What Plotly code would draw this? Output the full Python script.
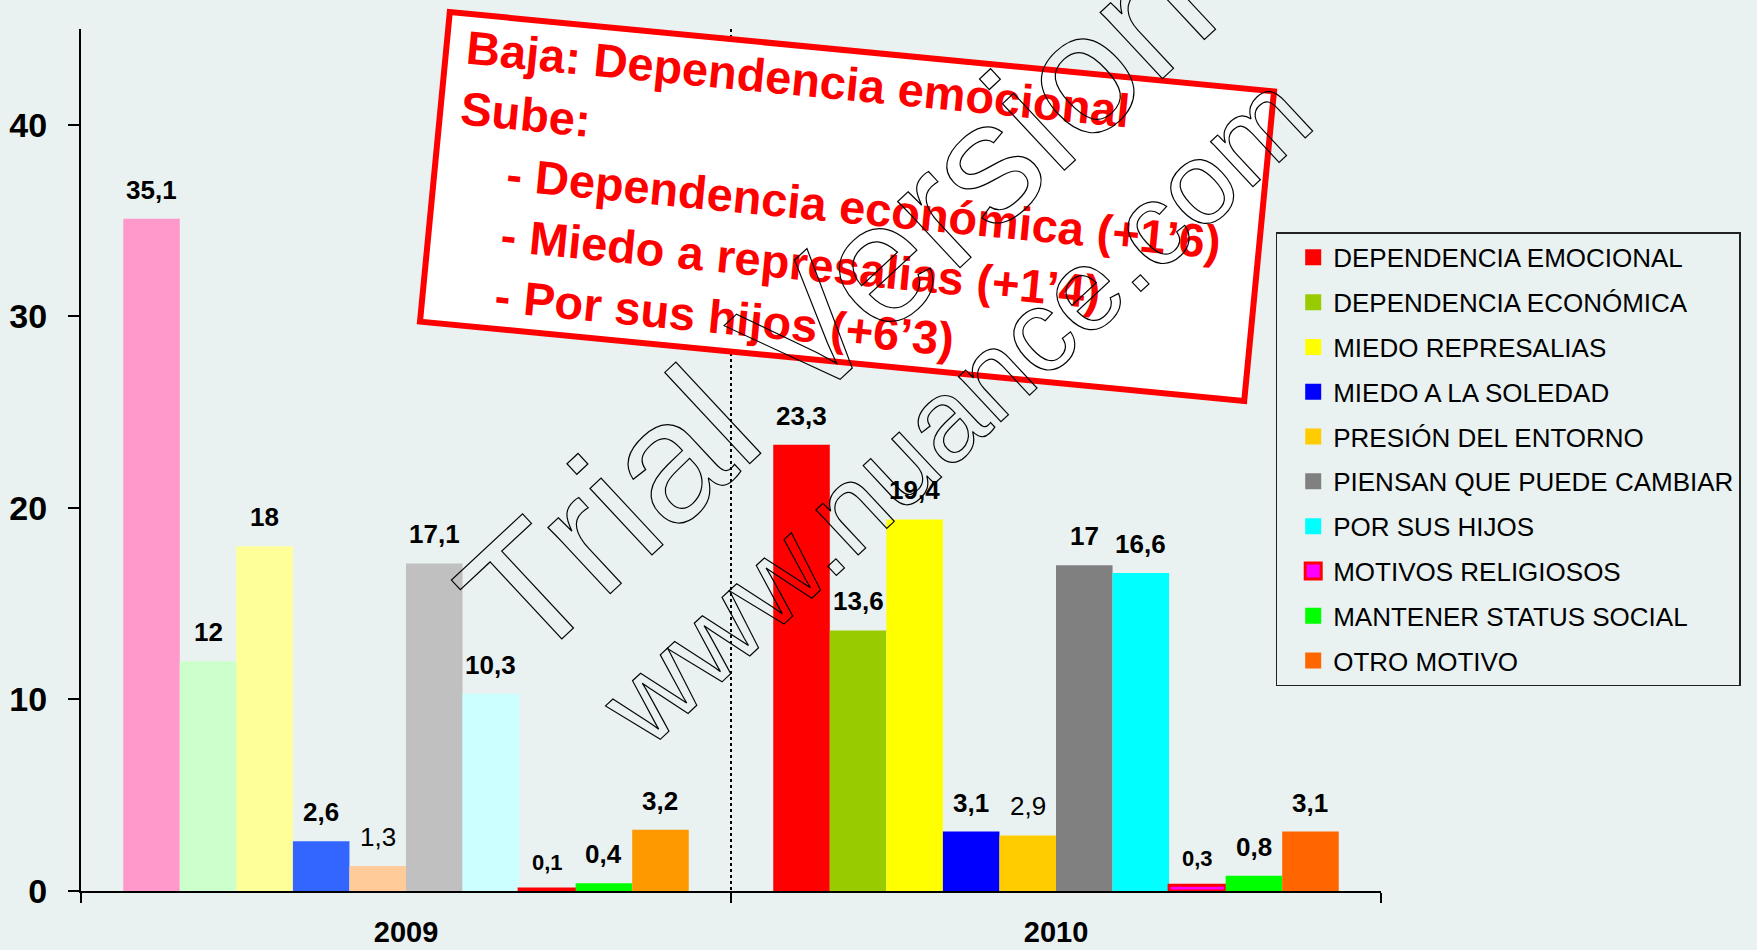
import plotly.graph_objects as go

years = ['2009', '2010']

motivos = [
    'DEPENDENCIA EMOCIONAL',
    'DEPENDENCIA ECONÓMICA',
    'MIEDO REPRESALIAS',
    'MIEDO A LA SOLEDAD',
    'PRESIÓN DEL ENTORNO',
    'PIENSAN QUE PUEDE CAMBIAR',
    'POR SUS HIJOS',
    'MOTIVOS RELIGIOSOS',
    'MANTENER STATUS SOCIAL',
    'OTRO MOTIVO',
]

valores_2009 = [35.1, 12, 18, 2.6, 1.3, 17.1, 10.3, 0.1, 0.4, 3.2]
valores_2010 = [23.3, 13.6, 19.4, 3.1, 2.9, 17, 16.6, 0.3, 0.8, 3.1]

colores_2009 = ['#FF99CC', '#CCFFCC', '#FFFF99', '#3366FF', '#FFCC99',
                '#C0C0C0', '#CCFFFF', '#FF00FF', '#00FF00', '#FF9900']
colores_2010 = ['#FF0000', '#99CC00', '#FFFF00', '#0000FF', '#FFCC00',
                '#808080', '#00FFFF', '#FF00FF', '#00FF00', '#FF6600']

nota = [
    'Baja: Dependencia emocional',
    'Sube:',
    '- Dependencia económica (+1’6)',
    '- Miedo a represalias (+1’4)',
    '- Por sus hijos (+6’3)',
]

bg = '#E9F2F1'
font_main = 'Liberation Sans, Arial, sans-serif'
bargap = 0.13

data = []
for i, name in enumerate(motivos):
    religioso = (i == 7)
    data.append(go.Bar(
        x=years,
        y=[valores_2009[i], valores_2010[i]],
        name=name,
        marker=dict(color=[colores_2009[i], colores_2010[i]],
                    line=dict(color='#FF0000', width=3 if religioso else 0)),
        showlegend=False,
        hoverinfo='x+y+name',
    ))

# legend entries (2010 colours)
for i, name in enumerate(motivos):
    religioso = (i == 7)
    data.append(go.Scatter(
        x=[None], y=[None],
        mode='markers',
        name=name,
        legendgroup=name,
        marker=dict(symbol='square', size=16, color=colores_2010[i],
                    line=dict(color='#FF0000', width=3 if religioso else 0)),
    ))

# value labels above the bars
annotations = []
bw = (1 - bargap) / len(motivos)
for j, vals in enumerate([valores_2009, valores_2010]):
    for i, v in enumerate(vals):
        label = f'{v:g}'.replace('.', ',')
        bold = (i != 4)
        size = 22 if i == 7 else 26
        annotations.append(dict(
            x=j + (i - (len(motivos) - 1) / 2) * bw,
            y=v,
            xref='x', yref='y',
            text=label,
            showarrow=False,
            xanchor='center', yanchor='bottom',
            yshift=12,
            font=dict(family=font_main, size=size, color='black',
                      weight='bold' if bold else 'normal'),
        ))

# red note box
nbsp = '\u00a0'
lines = []
for t in nota:
    indent = nbsp * (5 if t.startswith('-') else 1)
    lines.append(indent + t)
annotations.append(dict(
    x=0.589, y=0.794, xref='paper', yref='paper',
    xanchor='center', yanchor='middle',
    text='<br>'.join(lines),
    align='left', valign='middle',
    showarrow=False,
    textangle=5.5,
    width=814, height=297,
    bgcolor='white', bordercolor='#FF0000', borderwidth=6, borderpad=4,
    font=dict(family=font_main, size=47, color='#FF0000', weight='bold'),
))

# watermark (outlined via post_script)
wm_font = 'Liberation Sans, Arial, sans-serif'
annotations.append(dict(
    x=0.581, y=0.684, xref='paper', yref='paper',
    xanchor='center', yanchor='middle', showarrow=False,
    text='Trial Version', textangle=-43,
    font=dict(family=wm_font, size=172, color='rgba(0,0,0,0)'),
))
annotations.append(dict(
    x=0.672, y=0.559, xref='paper', yref='paper',
    xanchor='center', yanchor='middle', showarrow=False,
    text='www.nuance.com', textangle=-43,
    font=dict(family=wm_font, size=117, color='rgba(0,0,0,0)'),
))

layout = go.Layout(
    width=1757, height=950,
    paper_bgcolor=bg, plot_bgcolor=bg,
    margin=dict(l=81, r=376, t=29, b=59),
    barmode='group', bargap=bargap, bargroupgap=0,
    font=dict(family=font_main, color='black'),
    xaxis=dict(
        type='category', categoryorder='array', categoryarray=years,
        tickson='boundaries', ticks='outside', ticklen=10, tickwidth=2,
        tickcolor='black',
        showline=True, linecolor='black', linewidth=2,
        showgrid=True, gridcolor='black', gridwidth=2, griddash='dot',
        tickfont=dict(family=font_main, size=29, weight='bold'),
        ticklabelstandoff=14, automargin=False,
    ),
    yaxis=dict(
        range=[0, 45], tickvals=[0, 10, 20, 30, 40],
        ticks='outside', ticklen=11, tickwidth=2, tickcolor='black',
        showline=True, linecolor='black', linewidth=2,
        showgrid=False, zeroline=False,
        tickfont=dict(family=font_main, size=34, weight='bold'),
        ticklabelstandoff=14, automargin=False,
    ),
    legend=dict(
        x=0.919, y=0.764, xanchor='left', yanchor='top',
        bgcolor=bg, bordercolor='#222222', borderwidth=1.5,
        font=dict(family=font_main, size=26, color='black'),
        tracegroupgap=8, indentation=16,
    ),
    annotations=annotations,
)

fig = go.Figure(data=data, layout=layout)

page_js = """
document.body.style.margin = '0';
document.body.style.background = '#E9F2F1';
var gd = document.getElementById('{plot_id}');
function outlineWatermark() {
    gd.querySelectorAll('text.annotation-text').forEach(function (t) {
        var s = t.textContent;
        if (s.indexOf('Trial') >= 0 || s.indexOf('nuance') >= 0) {
            t.style.fill = 'none';
            t.style.stroke = 'black';
            t.style.strokeWidth = '1.2px';
        }
    });
}
outlineWatermark();
gd.on('plotly_afterplot', outlineWatermark);
"""

fig.write_html('out.html', post_script=page_js,
               config={'displayModeBar': False})
